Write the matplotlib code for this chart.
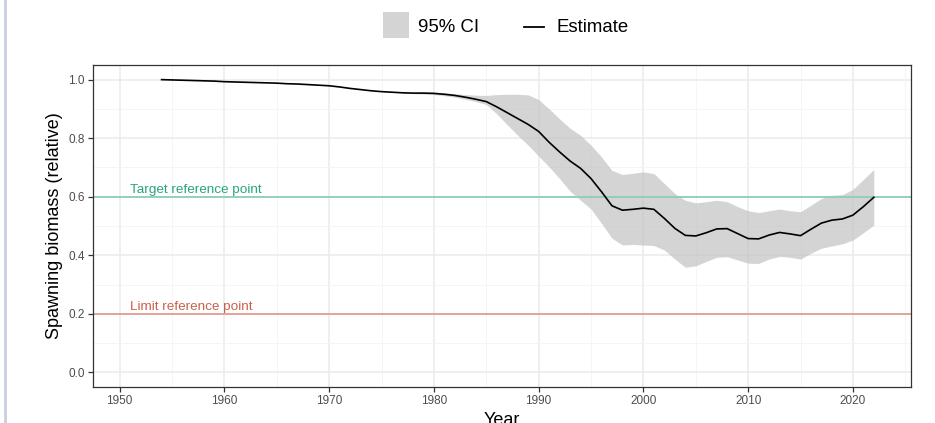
import matplotlib
matplotlib.use("Agg")
import matplotlib.pyplot as plt
from matplotlib.patches import Rectangle
from matplotlib.lines import Line2D
import numpy as np

plt.rcParams['font.family'] = ['Liberation Sans', 'DejaVu Sans']

years = list(range(1954, 2023))
estimate = [1.000, 0.999, 0.998, 0.997, 0.996, 0.995, 0.993, 0.992, 0.991, 0.990,
            0.989, 0.988, 0.986, 0.985, 0.983, 0.981, 0.979, 0.975, 0.970, 0.966,
            0.962, 0.959, 0.957, 0.955, 0.954, 0.954, 0.953, 0.950, 0.946, 0.940,
            0.933, 0.925, 0.907, 0.887, 0.867, 0.847, 0.823, 0.786, 0.753, 0.722,
            0.697, 0.662, 0.617, 0.569, 0.554, 0.557, 0.561, 0.557, 0.526, 0.492,
            0.468, 0.466, 0.477, 0.490, 0.491, 0.474, 0.457, 0.456, 0.469, 0.478,
            0.473, 0.467, 0.489, 0.510, 0.520, 0.524, 0.537, 0.566, 0.598]

ci_years = list(range(1977, 2023))
ci_upper = [0.956, 0.956, 0.957, 0.957, 0.955, 0.952, 0.949, 0.947, 0.946, 0.949,
            0.950, 0.950, 0.948, 0.932, 0.900, 0.866, 0.834, 0.810, 0.776, 0.736,
            0.690, 0.676, 0.680, 0.685, 0.679, 0.645, 0.611, 0.588, 0.579, 0.583,
            0.588, 0.583, 0.566, 0.552, 0.546, 0.552, 0.558, 0.552, 0.549, 0.571,
            0.594, 0.605, 0.607, 0.625, 0.659, 0.693]
ci_lower = [0.954, 0.952, 0.951, 0.949, 0.945, 0.940, 0.933, 0.925, 0.915, 0.883,
            0.846, 0.810, 0.776, 0.739, 0.702, 0.662, 0.619, 0.588, 0.558, 0.509,
            0.458, 0.435, 0.437, 0.435, 0.433, 0.418, 0.387, 0.359, 0.364, 0.379,
            0.393, 0.395, 0.384, 0.373, 0.372, 0.387, 0.396, 0.393, 0.387, 0.407,
            0.424, 0.432, 0.439, 0.452, 0.477, 0.503]

target_ref = 0.6
limit_ref = 0.2
label_year = 1951
x_ticks = [1950, 1960, 1970, 1980, 1990, 2000, 2010, 2020]
y_ticks = [0.0, 0.2, 0.4, 0.6, 0.8, 1.0]

W, H = 935, 423
fig = plt.figure(figsize=(W / 100, H / 100), dpi=100)
fig.patch.set_facecolor('white')

L, R, T, B = 93, 911, 65, 387
ax = fig.add_axes([L / W, 1 - B / H, (R - L) / W, (B - T) / H])

ax.fill_between(ci_years, ci_lower, ci_upper, color='#BEBEBE', alpha=0.65,
                linewidth=0, zorder=2)
ax.plot(years, estimate, color='black', lw=1.2, zorder=3)
ax.axhline(target_ref, color='#8CCFB3', lw=1.3, zorder=2.5)
ax.axhline(limit_ref, color='#E29C90', lw=1.3, zorder=2.5)
ax.text(label_year, target_ref + 0.004, 'Target reference point', color='#2AA47D',
        fontsize=9.7, ha='left', va='bottom', zorder=4)
ax.text(label_year, limit_ref + 0.004, 'Limit reference point', color='#C9604C',
        fontsize=9.7, ha='left', va='bottom', zorder=4)

ax.set_xlim(1947.45, 2025.55)
ax.set_ylim(-0.05, 1.05)
ax.set_xticks(x_ticks)
ax.set_yticks(y_ticks)
ax.set_xticklabels([str(v) for v in x_ticks])
ax.set_yticklabels([f'{v:.1f}' for v in y_ticks])
ax.set_xticks(np.arange(1955, 2026, 10), minor=True)
ax.set_yticks(np.arange(0.1, 1.0, 0.2), minor=True)
ax.grid(True, which='major', color='#EBEBEB', lw=1.1, zorder=0)
ax.grid(True, which='minor', color='#F4F4F4', lw=0.6, zorder=0)
ax.set_axisbelow(True)
ax.tick_params(which='major', length=3.5, width=0.9, color='#333333',
               labelcolor='#4D4D4D', labelsize=8.5, pad=2.5)
ax.tick_params(which='minor', length=0)
for s in ax.spines.values():
    s.set_color('#333333')
    s.set_linewidth(0.9)

ax.set_ylabel('Spawning biomass (relative)', fontsize=13, color='black', labelpad=4)
fig.text(((L + R) / 2) / W, 1 - 412 / H, 'Year', fontsize=13, ha='center', va='top')

# legend
def px(x, y):
    return (x / W, 1 - y / H)

x0, y0 = px(383, 38)
fig.add_artist(Rectangle((x0, y0), 26 / W, 26 / H, transform=fig.transFigure,
                         facecolor='#D4D4D4', edgecolor='none'))
fig.text(*px(418, 27), '95% CI', fontsize=13.4, ha='left', va='center')
fig.add_artist(Line2D([524 / W, 544 / W], [1 - 27 / H, 1 - 27 / H],
                      transform=fig.transFigure, color='black', lw=1.3))
fig.text(*px(557, 27), 'Estimate', fontsize=13.4, ha='left', va='center')

# left border of screenshot
fig.add_artist(Line2D([5 / W, 5 / W], [0, 1], transform=fig.transFigure,
                      color='#C8D0E0', lw=2))

fig.savefig('out.png', dpi=100)
